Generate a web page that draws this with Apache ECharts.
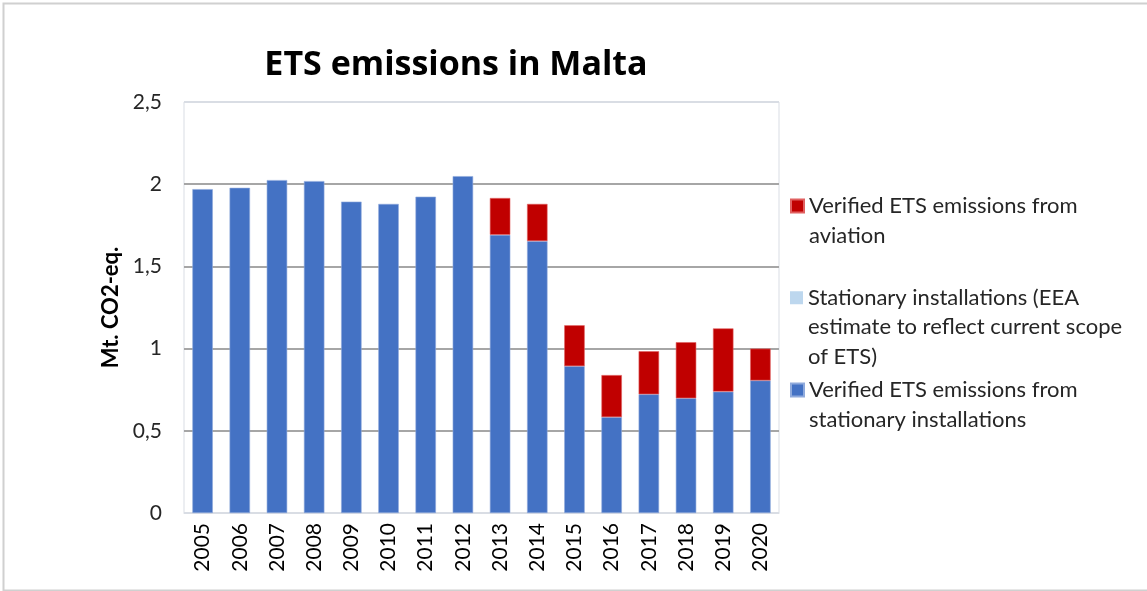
<!DOCTYPE html>
<html><head><meta charset="utf-8">
<script src="https://cdn.jsdelivr.net/npm/echarts@6/dist/echarts.min.js"></script>
<style>html,body{margin:0;padding:0;background:#fff}#c{width:1147px;height:591px}</style>
</head><body><div id="c"></div>
<script>
const years = ['2005','2006','2007','2008','2009','2010','2011','2012','2013','2014','2015','2016','2017','2018','2019','2020'];
const stationaryVerified = [1.970,1.978,2.025,2.019,1.894,1.880,1.924,2.049,1.692,1.654,0.893,0.583,0.722,0.698,0.738,0.806];
const stationaryEstimate = [null,null,null,null,null,null,null,null,null,null,null,null,null,null,null,null];
const aviation = [null,null,null,null,null,null,null,null,0.224,0.226,0.249,0.256,0.262,0.341,0.385,0.194];
const yTicks = [0,0.5,1,1.5,2,2.5];
const names = ['Verified ETS emissions from\naviation','Stationary installations (EEA\nestimate to reflect current scope\nof ETS)','Verified ETS emissions from\nstationary installations'];

const FONT = 'Lato';
const LH = 29.5;
function legend(name, top) {
  const n = name.split('\n').length;
  return {
    orient: 'vertical', left: 790, top: top, padding: 0,
    itemWidth: 13, itemHeight: 13, itemGap: 0,
    icon: 'rect',
    data: [name],
    formatter: nm => '{s| }\n' + nm.split('\n').map(l => '{t|' + l + '}').join('\n'),
    textStyle: {fontFamily: FONT, fontSize: 22, color: '#262626',
      rich: {s: {fontSize: 1, lineHeight: (n - 1) * LH},
             t: {fontFamily: FONT, fontSize: 22, color: '#262626', lineHeight: LH}}},
    selectedMode: false
  };
}
const chart = echarts.init(document.getElementById('c'), null, {renderer: 'canvas'});
chart.setOption({
  animation: false,
  textStyle: {fontFamily: FONT},
  title: {text: 'ETS emissions in Malta', left: 451, top: 43, textAlign: 'center',
    textStyle: {fontFamily: 'Open Sans', fontWeight: 'bold', fontSize: 34, color: '#000'}},
  graphic: [{type: 'rect', left: 1, top: 1, shape: {width: 1160, height: 587},
    style: {fill: 'none', stroke: '#d0d0d0', lineWidth: 2}, silent: true}],
  legend: [legend(names[0], 176), legend(names[1], 253), legend(names[2], 360)],
  grid: {left: 184, right: 368, top: 102, bottom: 78, show: true, borderColor: '#d9dde4', borderWidth: 1},
  xAxis: {type: 'category', data: years,
    axisLine: {show: true, lineStyle: {color: '#d9dde4', width: 1}},
    axisTick: {show: false},
    axisLabel: {rotate: 90, fontSize: 21, color: '#000', margin: 10, fontFamily: FONT}},
  yAxis: {type: 'value', min: 0, max: 2.5, interval: 0.5,
    name: 'Mt. CO2-eq.', nameLocation: 'middle', nameRotate: 90, nameGap: 62,
    nameTextStyle: {fontFamily: FONT, fontWeight: 'bold', fontSize: 22, color: '#000'},
    axisLine: {show: false}, axisTick: {show: false},
    axisLabel: {fontSize: 21, color: '#262626', margin: 22, fontFamily: FONT,
      formatter: v => String(v).replace('.', ',')},
    splitLine: {lineStyle: {color: ['#d9dde4','#a6a6a6','#a6a6a6','#a6a6a6','#a6a6a6','#d9dde4'], width: 2}}},
  series: [
    {name: names[2], type: 'bar', stack: 's', data: stationaryVerified, barCategoryGap: '45%',
      itemStyle: {color: '#4472c4', borderColor: '#8faadc', borderWidth: 0.6}},
    {name: names[1], type: 'bar', stack: 's', data: stationaryEstimate,
      itemStyle: {color: '#bdd7ee'}},
    {name: names[0], type: 'bar', stack: 's', data: aviation,
      itemStyle: {color: '#c00000', borderColor: '#e06060', borderWidth: 0.6}}
  ]
});
</script></body></html>
